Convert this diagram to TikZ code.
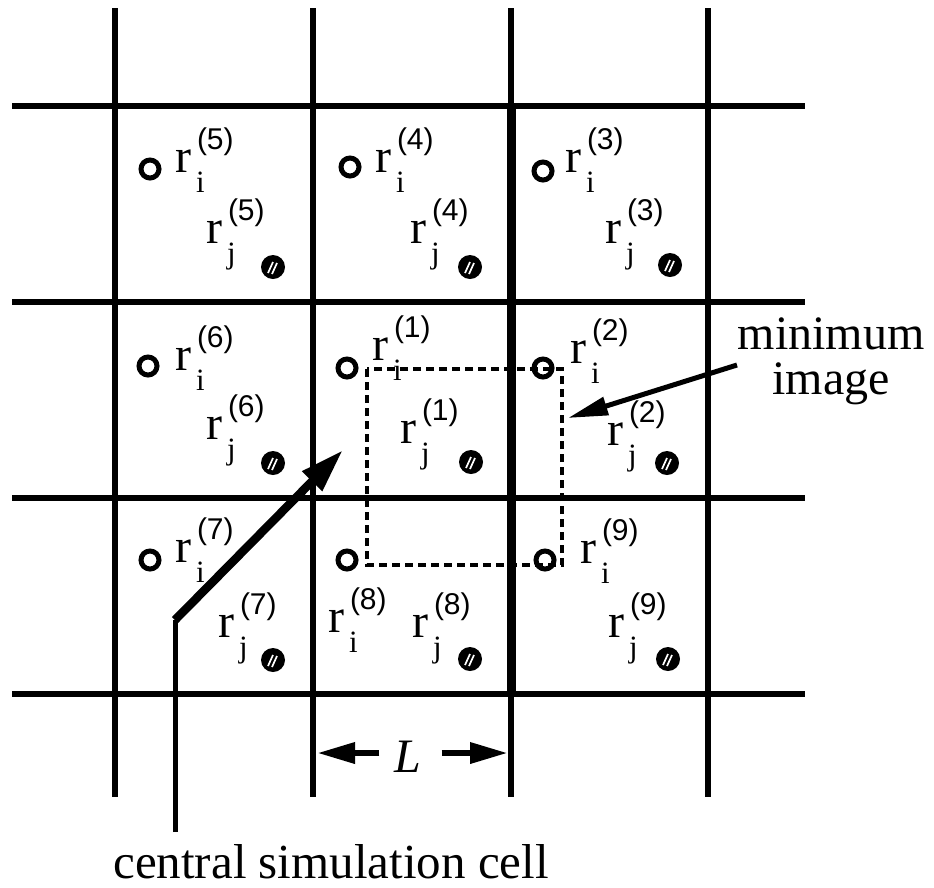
\documentclass[tikz,border=0pt]{standalone}
\usepackage{fontspec}
\setmainfont{Liberation Serif}
\newfontfamily\supfont{Liberation Sans}
\usetikzlibrary{arrows.meta}
\tikzset{
  gridline/.style={line width=5.5pt,line cap=butt},
  thickline/.style={line width=9pt,line cap=butt},
  lab/.style={inner sep=0pt,outer sep=0pt},
  ocirc/.style={circle,draw=black,line width=5pt,minimum size=18pt,inner sep=0pt},
  hcirc/.style={circle,fill=black,minimum size=24pt,inner sep=0pt},
  stripe/.style={white,line width=1.7pt},
  dbox/.style={line width=3.5pt,dash pattern=on 8pt off 5pt},
}
\newcommand\rlab[5]{%
  \node[lab,anchor=base west,font=\fontsize{48}{48}\selectfont] (#1) at (#2,#3) {r};
  \node[lab,anchor=base west,font=\fontsize{30}{30}\supfont] (#1sup) at ([xshift=22pt,yshift=23pt]#1.base west) {(#5)};
  \node[lab,anchor=base west,font=\fontsize{31}{31}\selectfont] (#1sub) at ([xshift=21pt,yshift=-20pt]#1.base west) {#4};
}
\newcommand\hatc[3]{%
  \node[hcirc] (#1) at (#2,#3) {};
  \draw[stripe] ([xshift=-5pt,yshift=-6pt]#1.center) -- ([xshift=0pt,yshift=5pt]#1.center);
  \draw[stripe] ([xshift=-1pt,yshift=-7pt]#1.center) -- ([xshift=4pt,yshift=4pt]#1.center);
}
\begin{document}
\begin{tikzpicture}[x=1pt,y=-1pt]
\fill[white] (0,0) rectangle (934,887);
\useasboundingbox (0,0) rectangle (934,887);
% grid
\foreach \gx in {115,313,511,708} \draw[gridline] (\gx,8) -- (\gx,797);
\foreach \gy in {106,302,498,694} \draw[gridline] (12,\gy) -- (805,\gy);
\draw[thickline] (511,106) -- (511,694);
% open circles
\node[ocirc] (o5) at (150,169) {};
\node[ocirc] (o4) at (350,167) {};
\node[ocirc] (o3) at (543,171) {};
\node[ocirc] (o6) at (148,366) {};
\node[ocirc] (o1) at (347,368) {};
\node[ocirc] (o2) at (543,368) {};
\node[ocirc] (o7) at (150,560) {};
\node[ocirc] (o8) at (347,560) {};
\node[ocirc] (o9) at (545,560) {};
% hatched circles
\hatc{h5}{273}{267}
\hatc{h4}{470}{267}
\hatc{h3}{670}{265}
\hatc{h6}{273}{463}
\hatc{h1}{471}{462}
\hatc{h2}{667}{463}
\hatc{h7}{273}{660}
\hatc{h8}{470}{659}
\hatc{h9}{668}{659}
% dashed minimum image box
\draw[dbox] (367,369) rectangle (562,565);
% labels
\rlab{ri5}{175}{172}{i}{5}
\rlab{rj5}{206}{243}{j}{5}
\rlab{ri4}{375}{172}{i}{4}
\rlab{rj4}{410}{243}{j}{4}
\rlab{ri3}{565}{172}{i}{3}
\rlab{rj3}{605}{243}{j}{3}
\rlab{ri6}{175}{370}{i}{6}
\rlab{rj6}{206}{439}{j}{6}
\rlab{ri1}{372}{360}{i}{1}
\rlab{rj1}{400}{443}{j}{1}
\rlab{ri2}{570}{363}{i}{2}
\rlab{rj2}{607}{445}{j}{2}
\rlab{ri7}{175}{562}{i}{7}
\rlab{rj7}{218}{637}{j}{7}
\rlab{ri8}{328}{632}{i}{8}
\rlab{rj8}{412}{637}{j}{8}
\rlab{ri9}{580}{563}{i}{9}
\rlab{rj9}{608}{637}{j}{9}
% minimum image
\node[inner sep=0pt,align=center,font=\fontsize{48}{45}\selectfont,anchor=north] (min) at (831,318) {minimum\\image};
\coordinate (minstart) at (737,365);
\coordinate (mintip) at (568,418);
\draw[line width=5pt,-{Triangle[length=40pt,width=18pt]}] (minstart) -- (mintip);
% central simulation cell
\node[inner sep=0pt,font=\fontsize{49}{49}\selectfont,anchor=base] (csc) at (331,878) {central simulation cell};
\coordinate (cscbot) at (175,832);
\coordinate (cscbend) at (175,620);
\coordinate (csctip) at (343,450);
\draw[line width=5pt] (cscbot) -- (cscbend);
\draw[line width=8.5pt,-{Triangle[length=44pt,width=26pt]}] (cscbend) -- (csctip);
% L
\node[inner sep=0pt,anchor=base,font=\fontsize{48}{48}\selectfont\itshape] (L) at (408,772) {L};
\coordinate (Lleft) at (317,753);
\coordinate (Lright) at (508,753);
\draw[line width=6.5pt,-{Triangle[length=38pt,width=20pt]}] ([xshift=-15pt]L.west |- Lleft) -- (Lleft);
\draw[line width=6.5pt,-{Triangle[length=38pt,width=20pt]}] ([xshift=20pt]L.east |- Lright) -- (Lright);
\end{tikzpicture}
\end{document}
